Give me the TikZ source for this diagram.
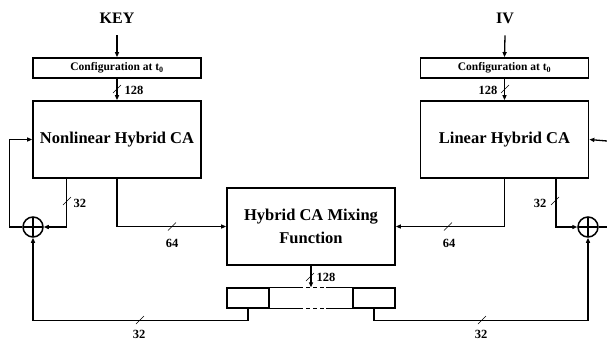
\documentclass[tikz,border=0pt]{standalone}
\usepackage{fontspec}
\setmainfont{Liberation Serif}
\usetikzlibrary{arrows.meta,calc}
\begin{document}
\begin{tikzpicture}[x=1pt,y=-1pt,
  line width=1.3pt,
  arr/.style={-{Triangle[length=5pt,width=4pt]}},
  box/.style={draw,line width=1.7pt,rectangle,inner sep=0pt,minimum width=168pt,minimum height=77pt,font=\fontsize{16.5}{20}\selectfont\bfseries,align=center},
  cfg/.style={draw,line width=1.7pt,rectangle,inner sep=0pt,minimum width=168pt,minimum height=20pt,font=\fontsize{11.5}{13}\selectfont\bfseries},
  cell/.style={draw,line width=1.5pt,rectangle,inner sep=0pt,minimum width=42pt,minimum height=20pt},
  title/.style={font=\fontsize{16}{19}\selectfont\bfseries},
  num/.style={font=\fontsize{12.5}{14}\selectfont\bfseries,inner sep=1pt},
  xor/.style={draw,line width=1.5pt,circle,minimum size=20pt,inner sep=0pt,
    path picture={\draw[line width=1.3pt] (path picture bounding box.north) -- (path picture bounding box.south)
      (path picture bounding box.west) -- (path picture bounding box.east);}},
  tickmark/.style={line width=0.6pt}
]
\useasboundingbox (0,0) rectangle (607,341);

% nodes
\node[title] (key) at (117,18) {KEY};
\node[title] (iv) at (505,18) {IV};
\node[cfg] (cfgL) at (117,68) {Configuration at t\textsubscript{0}};
\node[cfg] (cfgR) at (504.5,68) {Configuration at t\textsubscript{0}};
\node[box] (nlca) at (117,139.5) {Nonlinear Hybrid CA};
\node[box] (lca) at (504.5,139.5) {Linear Hybrid CA};
\node[box] (mix) at (311,226.5) {Hybrid CA Mixing\\[3pt]Function};
\node[cell] (regL) at (248,298) {};
\node[cell] (regR) at (374,298) {};
\node[rectangle,inner sep=0pt,minimum width=84pt,minimum height=20pt] (regM) at (311,298) {};
\node[xor] (xorL) at (33,227) {};
\node[xor] (xorR) at (588,227) {};
\coordinate (inR) at (607,141);
\coordinate (outR) at (607,227);

% register middle cell borders
\draw[line width=1.5pt] (regM.north west) -- ++(31,0);
\draw[line width=1.5pt,dash pattern=on 4pt off 3pt] ($(regM.north west)+(31,0)$) -- ++(27,0);
\draw[line width=1.5pt] ($(regM.north west)+(58,0)$) -- (regM.north east);
\draw[line width=1.5pt] (regM.south west) -- ++(31,0);
\draw[line width=1.5pt,dash pattern=on 4pt off 3pt] ($(regM.south west)+(31,0)$) -- ++(27,0);
\draw[line width=1.5pt] ($(regM.south west)+(58,0)$) -- (regM.south east);

% connectors
\draw[arr] ([yshift=-8pt]key.south) -- (cfgL.north);
\draw[arr] ([yshift=-8pt]iv.south) -- (cfgR.north);
\draw[arr] (cfgL.south) -- (nlca.north);
\draw[arr] (cfgR.south) -- (lca.north);
\draw[arr] (xorL.west) -- ++(-13,0) |- (nlca.west);
\draw[arr] (inR) -- (lca.east);
\draw[arr] ($(nlca.south west)+(34,0)$) |- (xorL.east);
\draw[arr] ($(lca.south east)+(-33.5,0)$) |- (xorR.west);
\draw (xorR.east) -- (outR);
\draw[arr] (nlca.south) |- (mix.west);
\draw[arr] (lca.south) |- (mix.east);
\draw[arr] (mix.south) -- (regM.north);
\draw[arr] (regL.south) -- ++(0,12) -| (xorL.south);
\draw[arr] (regR.south) -- ++(0,12) -| (xorR.south);

% ticks
\foreach \p in {(117,89),(505,89),(310,277),(67,201),(555,201),(172,226.5),(448,226.5),(140,320),(482,320)}
  \draw[tickmark] \p ++(-4,4) -- ++(8,-8);

% labels
\node[num,anchor=west] (l128a) at (123,90) {128};
\node[num,anchor=east] (l128b) at (499,90) {128};
\node[num,anchor=west] (l128c) at (315,277) {128};
\node[num,anchor=west] (l32a) at (72,203) {32};
\node[num,anchor=east] (l32b) at (548,203) {32};
\node[num] (l64a) at (172,243) {64};
\node[num] (l64b) at (449,243) {64};
\node[num] (l32c) at (139,334) {32};
\node[num] (l32d) at (481,334) {32};
\end{tikzpicture}
\end{document}
